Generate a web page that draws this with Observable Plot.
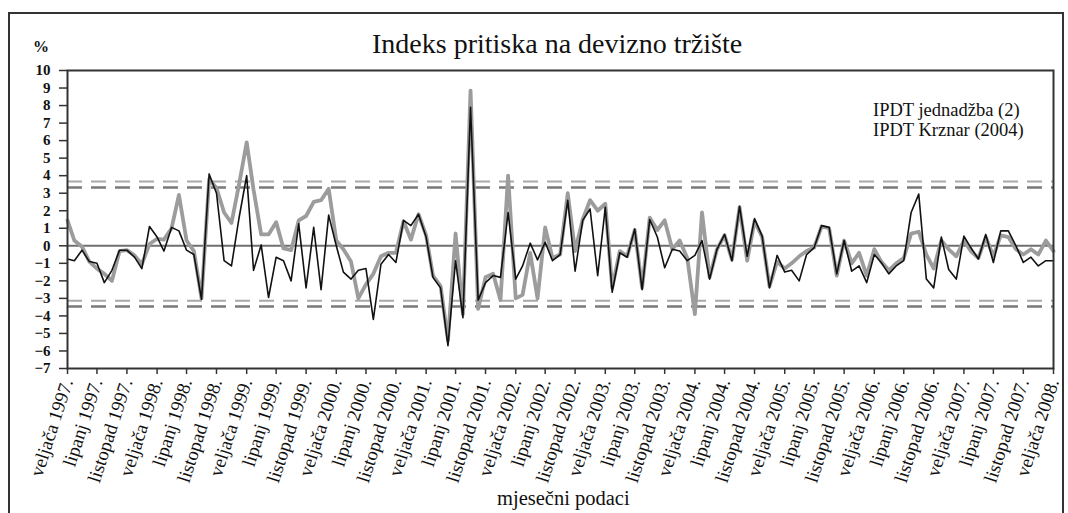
<!DOCTYPE html>
<html><head><meta charset="utf-8">
<script src="https://cdn.jsdelivr.net/npm/d3@7"></script>
<script src="https://cdn.jsdelivr.net/npm/@observablehq/plot@0.6"></script>
<style>
body{margin:0;background:#fff;}
#wrap{position:relative;width:1068px;height:513px;overflow:hidden;background:#fff;}
#border{position:absolute;left:8px;top:12px;width:1052px;height:520px;border:2px solid #333;}
#chart{position:absolute;left:0;top:0;}
.t{position:absolute;font-family:"Liberation Serif","Times New Roman",serif;color:#111;white-space:nowrap;line-height:1.1;}
</style></head>
<body>
<div id="wrap">
<div id="border"></div>
<div id="chart"></div>
<div class="t" style="left:372px;top:29px;font-size:28px">Indeks pritiska na devizno tržište</div>
<div class="t" style="left:33px;top:38px;font-size:16px;font-weight:bold">%</div>
<div class="t" style="left:873px;top:100px;font-size:18.5px">IPDT jednadžba (2)</div>
<div class="t" style="left:873px;top:120px;font-size:18.5px">IPDT Krznar (2004)</div>
<div class="t" style="left:497px;top:487px;font-size:20.5px">mjesečni podaci</div>
</div>
<script>
// IPDT jednadžba (2) – monthly, veljača 1997. … veljača 2008.
const ipdtJednadzba = [
 -0.75,-0.85,-0.25,-0.9,-1.0,-2.1,-1.4,-0.25,-0.25,-0.65,-1.3,1.1,0.5,-0.3,1.05,0.85,-0.25,-0.5,-3.05,4.1,
 3.0,-0.85,-1.15,1.6,4.0,-1.4,0.05,-2.95,-0.65,-0.85,-2.0,1.25,-2.4,1.05,-2.5,1.75,0.0,-1.5,-1.9,-1.4,
 -1.3,-4.2,-1.05,-0.5,-0.95,1.45,1.15,1.8,0.5,-1.8,-2.4,-5.7,-0.85,-4.1,7.9,-3.1,-2.1,-1.7,-1.8,1.9,
 -1.9,-1.15,0.15,-0.8,0.2,-0.85,-0.5,2.6,-1.45,1.45,2.1,-1.7,2.2,-2.65,-0.4,-0.65,0.95,-2.5,1.5,0.5,
 -1.25,-0.2,-0.3,-0.85,-0.55,0.3,-1.9,-0.2,0.65,-0.85,2.25,-0.6,1.55,0.55,-2.4,-0.55,-1.5,-1.4,-2.0,-0.5,
 -0.1,1.15,1.05,-1.6,0.3,-1.45,-1.15,-2.1,-0.5,-0.95,-1.6,-1.15,-0.85,1.9,2.95,-1.9,-2.4,0.5,-1.35,-1.9,
 0.55,-0.1,-0.75,0.65,-0.95,0.85,0.85,0.0,-0.95,-0.65,-1.15,-0.85,-0.85
];
// IPDT Krznar (2004)
const ipdtKrznar = [
 1.45,0.3,-0.05,-0.9,-1.3,-1.6,-2.0,-0.3,-0.25,-0.55,-1.05,0.1,0.4,0.35,1.0,2.9,0.3,-0.3,-3.0,3.8,
 3.3,1.9,1.3,3.5,5.9,3.2,0.65,0.65,1.35,-0.15,-0.25,1.45,1.7,2.5,2.6,3.25,0.3,-0.2,-0.9,-3.0,
 -2.2,-1.6,-0.6,-0.4,-0.4,1.4,0.35,1.8,0.6,-1.7,-2.3,-5.4,0.7,-3.9,8.85,-3.6,-1.8,-1.6,-3.1,4.0,
 -3.0,-2.8,-0.4,-3.0,1.05,-0.7,-0.5,3.0,-0.3,1.5,2.6,2.0,2.4,-2.4,-0.3,-0.6,0.9,-2.4,1.6,0.9,
 1.45,-0.2,0.3,-0.7,-3.9,1.9,-1.8,-0.2,0.6,-0.8,2.2,-0.85,1.4,0.5,-2.3,-0.9,-1.3,-1.0,-0.6,-0.3,
 -0.1,1.1,1.0,-1.7,0.3,-1.0,-0.4,-1.7,-0.2,-0.9,-1.4,-1.0,-0.7,0.7,0.8,-0.5,-1.3,0.3,-0.2,-0.6,
 0.3,-0.3,-0.7,0.5,-0.6,0.6,0.5,-0.2,-0.5,-0.2,-0.5,0.3,-0.3
];
const tickLabels = [
 "veljača 1997.","lipanj 1997.","listopad 1997.","veljača 1998.","lipanj 1998.","listopad 1998.",
 "veljača 1999.","lipanj 1999.","listopad 1999.","veljača 2000.","lipanj 2000.","listopad 2000.",
 "veljača 2001.","lipanj 2001.","listopad 2001.","veljača 2002.","lipanj 2002.","listopad 2002.",
 "veljača 2003.","lipanj 2003.","listopad 2003.","veljača 2004.","lipanj 2004.","listopad 2004.",
 "veljača 2005.","lipanj 2005.","listopad 2005.","veljača 2006.","lipanj 2006.","listopad 2006.",
 "veljača 2007.","lipanj 2007.","listopad 2007.","veljača 2008."
];
const upperBands = [3.67, 3.33];
const lowerBands = [-3.13, -3.47];

const month = i => new Date(Date.UTC(1997, 1 + i, 1));
const data = ipdtJednadzba.map((v, i) => ({date: month(i), j: v, k: ipdtKrznar[i]}));
const tickDates = tickLabels.map((_, k) => month(4 * k));
const labelOf = new Map(tickDates.map((d, k) => [+d, tickLabels[k]]));

const chart = Plot.plot({
  width: 1068, height: 513,
  marginLeft: 67, marginRight: 15, marginTop: 70, marginBottom: 145,
  x: {type: "utc", domain: [month(0), month(132)]},
  y: {domain: [-7, 10]},
  style: {background: "transparent", overflow: "visible"},
  marks: [
    Plot.ruleY([upperBands[0], lowerBands[0]], {stroke: "#a8a8a8", strokeWidth: 2, strokeDasharray: "15,9"}),
    Plot.ruleY([upperBands[1], lowerBands[1]], {stroke: "#7a7a7a", strokeWidth: 2.5, strokeDasharray: "15,9"}),
    Plot.ruleY([0], {stroke: "#6f6f6f", strokeWidth: 2}),
    Plot.line(data, {x: "date", y: "k", stroke: "#9c9c9c", strokeWidth: 3.8, strokeLinejoin: "round"}),
    Plot.line(data, {x: "date", y: "j", stroke: "#111", strokeWidth: 1.6}),
    Plot.frame({stroke: "#333", strokeWidth: 2}),
    Plot.axisY({ticks: d3.range(-7, 11), tickSize: 8, tickPadding: 9, label: null,
      fontFamily: "Liberation Serif", fontWeight: "bold", fontSize: 15, stroke: "#333", strokeWidth: 1.5, fill: "#111"}),
    Plot.axisX({ticks: tickDates, tickFormat: d => labelOf.get(+d), tickSize: 6, tickPadding: 5,
      tickRotate: -72, label: null, fontFamily: "Liberation Serif", fontSize: 19, stroke: "#333", strokeWidth: 1.5, fill: "#111"})
  ]
});
document.getElementById("chart").appendChild(chart);
</script>
</body></html>
